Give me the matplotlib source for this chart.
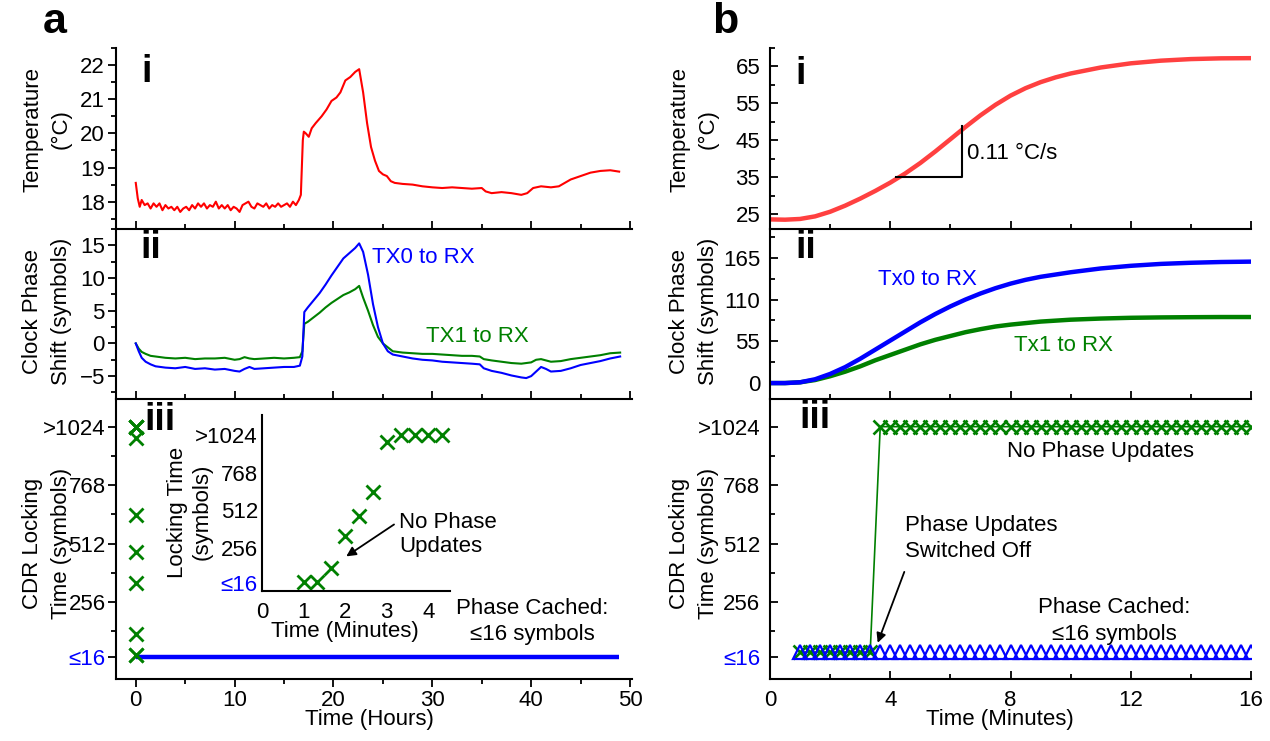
import numpy as np
import matplotlib
matplotlib.use("Agg")
import matplotlib.pyplot as plt
from matplotlib.ticker import MultipleLocator, FixedLocator

plt.rcParams['font.family'] = ['Liberation Sans', 'DejaVu Sans']

# ---------------- DATA ----------------
# Panel a-i: temperature (deg C) vs time (hours)
a_temp_hours = [0.0, 0.2, 0.4, 0.6, 0.9, 1.2, 1.5, 1.8, 2.1, 2.4, 2.7, 3.0, 3.3, 3.6, 3.9, 4.2, 4.5, 4.8,
                5.1, 5.4, 5.7, 6.0, 6.3, 6.6, 6.9, 7.2, 7.5, 7.8, 8.1, 8.4, 8.7, 9.0, 9.3, 9.6, 9.9, 10.2,
                10.5, 10.8, 11.1, 11.4, 11.7, 12.0, 12.3, 12.6, 12.9, 13.2, 13.5, 13.8, 14.1, 14.4, 14.7,
                15.0, 15.3, 15.6, 15.9, 16.2, 16.5, 16.7, 16.9, 17.0, 17.2, 17.5, 17.8, 18.2, 18.8, 19.3,
                19.8, 20.3, 20.7, 21.2, 21.7, 22.2, 22.6, 23.0, 23.4, 23.8, 24.2, 24.6, 25.0, 25.4, 25.8,
                26.2, 27.0, 28.0, 29.0, 30.0, 31.0, 32.0, 33.0, 34.0, 35.0, 35.4, 36.0, 37.0, 38.0, 39.0,
                39.6, 40.2, 41.0, 42.0, 42.8, 43.4, 44.0, 45.0, 46.0, 47.0, 48.0, 48.9]
a_temp_vals = [18.55, 18.10, 17.85, 18.05, 17.90, 17.95, 17.80, 17.95, 17.85, 17.95, 17.75, 17.90, 17.80,
               17.85, 17.75, 17.85, 17.70, 17.80, 17.85, 17.75, 17.90, 17.80, 17.95, 17.85, 17.95, 17.80,
               17.90, 17.85, 18.00, 17.80, 17.90, 17.80, 17.90, 17.75, 17.85, 17.80, 17.70, 17.90, 17.95,
               18.00, 17.85, 17.80, 17.95, 17.90, 17.85, 17.95, 17.80, 17.90, 17.85, 17.95, 17.85, 17.90,
               17.95, 17.85, 18.00, 17.90, 18.05, 18.20, 19.80, 20.05, 20.00, 19.90, 20.15, 20.30, 20.50,
               20.70, 20.95, 21.05, 21.20, 21.55, 21.65, 21.80, 21.88, 21.20, 20.30, 19.60, 19.20, 18.90,
               18.80, 18.75, 18.60, 18.55, 18.52, 18.50, 18.45, 18.42, 18.40, 18.42, 18.40, 18.38, 18.40,
               18.30, 18.25, 18.28, 18.25, 18.20, 18.25, 18.40, 18.45, 18.42, 18.45, 18.55, 18.65, 18.75,
               18.85, 18.90, 18.92, 18.88]

# Panel a-ii: clock phase shift (symbols) vs time (hours)
a_phase_hours = [0, 0.3, 0.6, 1, 1.5, 2, 3, 4, 5, 6, 7, 8, 9, 10, 10.5, 11, 11.5, 12, 13, 14, 15, 16,
                 16.6, 16.85, 17.05, 17.4, 18, 18.6, 19.2, 19.8, 20.4, 21, 21.6, 22.2, 22.6, 23.0, 23.5,
                 24.0, 24.5, 25.0, 25.5, 26, 27, 28, 29, 30, 31, 32, 33, 34, 34.8, 35.2, 36, 37, 38, 39,
                 39.5, 40, 40.5, 41, 41.5, 42, 43, 44, 45, 46, 47, 48, 49]
a_tx0 = [0, -1.2, -2.2, -2.8, -3.2, -3.5, -3.7, -3.8, -3.6, -3.9, -3.8, -4.0, -3.9, -4.2, -4.3, -3.9,
         -3.6, -3.9, -3.8, -3.7, -3.6, -3.6, -3.4, -2.0, 4.8, 5.5, 6.6, 7.7, 9.0, 10.4, 11.7, 13.0, 13.8,
         14.6, 15.3, 14.0, 10.5, 6.0, 2.5, 0.0, -1.2, -1.7, -2.0, -2.3, -2.5, -2.6, -2.8, -2.9, -3.0,
         -3.1, -3.2, -3.8, -4.2, -4.5, -4.9, -5.2, -5.3, -5.0, -4.3, -3.6, -3.9, -4.3, -4.2, -3.8, -3.3,
         -3.0, -2.7, -2.3, -2.0]
a_tx1 = [0, -0.8, -1.3, -1.6, -1.9, -2.0, -2.2, -2.3, -2.2, -2.4, -2.3, -2.3, -2.2, -2.5, -2.4, -2.1,
         -2.3, -2.4, -2.3, -2.2, -2.3, -2.2, -2.1, -1.2, 3.0, 3.3, 4.0, 4.7, 5.5, 6.2, 6.8, 7.4, 7.8,
         8.3, 8.8, 7.0, 5.0, 2.8, 1.0, 0.0, -0.6, -1.2, -1.4, -1.5, -1.6, -1.6, -1.7, -1.8, -1.9, -1.9,
         -2.0, -2.4, -2.6, -2.8, -3.0, -3.1, -3.0, -2.9, -2.5, -2.4, -2.6, -2.8, -2.7, -2.4, -2.2, -2.0,
         -1.8, -1.5, -1.4]

# Panel a-iii: CDR locking time (symbols); measured minutes after power-up without phase updates
lock_minutes = [1.0, 1.33, 1.67, 2.0, 2.33, 2.67, 3.0, 3.33, 3.67, 4.0, 4.33]
lock_symbols = [24, 24, 118, 338, 476, 636, 974, 1024, 1024, 1024, 1024]
cached_hours = [0, 48.9]
cached_symbols = [16, 16]

# Panel b-i: temperature vs time (minutes)
b_minutes = [0, 0.5, 1, 1.5, 2, 2.5, 3, 3.5, 4, 4.5, 5, 5.5, 6, 6.5, 7, 7.5, 8, 8.5, 9, 9.5, 10, 11,
             12, 13, 14, 15, 16]
b_temp = [23.6, 23.52, 23.72, 24.42, 25.67, 27.32, 29.22, 31.30, 33.55, 36.05, 38.87, 42.0, 45.3,
          48.62, 51.77, 54.62, 57.10, 59.12, 60.75, 62.05, 63.10, 64.72, 65.85, 66.57, 67.0, 67.2,
          67.25]
slope_x = [4.2, 6.38, 6.38]
slope_y = [35, 35, 48.8]

# Panel b-ii: clock phase shift vs time (minutes)
b_phase_minutes = [0, 0.5, 1, 1.5, 2, 2.5, 3, 3.5, 4, 4.5, 5, 5.5, 6, 6.5, 7, 7.5, 8, 8.5, 9, 10, 11,
                   12, 13, 14, 15, 16]
b_tx0 = [0, 0, 1, 5, 12, 21, 32, 44, 56, 68, 80, 91, 101, 110, 118, 125, 131, 136, 140, 146, 151,
         154.5, 157, 158.5, 159.5, 160]
b_tx1 = [0, 0, 1, 4, 9, 15, 22, 30, 37, 44, 51, 57, 62, 67, 71, 74.5, 77, 79, 81, 83.5, 85, 86, 86.5,
         86.8, 87, 87]

# Panel b-iii: locking time, sampled every 20 s from 1 to 16 minutes
b_lock_start_min = 1.0
b_lock_interval_min = 1 / 3
b_lock_count = 46
b_no_update_low_count = 8          # samples before phase updates switched off
b_no_update_low = 38
b_no_update_high = 1024
b_cached_level = 38

iii_ticks = [16, 256, 512, 768, 1024]
iii_ticklabels = ['≤16', '256', '512', '768', '>1024']
iii_minor = [128, 384, 640, 896]

# ---------------- FIGURE ----------------
W, H = 1270, 741
fig = plt.figure(figsize=(W / 100, H / 100), dpi=100)
FS = 16
BLUE = '#0000FF'
GREEN = '#008000'
RED = '#FF0000'
LRED = '#FF4040'


def add_ax(l, r, t, b):
    return fig.add_axes([l / W, 1 - b / H, (r - l) / W, (b - t) / H])


def ftext(x, y, s, **kw):
    kw.setdefault('fontsize', FS)
    return fig.text(x / W, 1 - y / H, s, **kw)


def style(ax, ydir, xdir, ypad, xpad, xlabels):
    for s in ['top', 'right']:
        ax.spines[s].set_visible(False)
    for s in ['left', 'bottom']:
        ax.spines[s].set_linewidth(1.5)
    ax.tick_params(axis='both', which='both', width=1.3, labelsize=FS)
    ax.tick_params(axis='y', which='both', direction=ydir, pad=ypad)
    ax.tick_params(axis='x', which='both', direction=xdir, pad=xpad, labelbottom=xlabels)
    ax.tick_params(which='major', length=6)
    ax.tick_params(which='minor', length=3.5)
    ax.patch.set_alpha(0)


ROWS = [(48, 229), (229, 399), (399, 679)]
AX_A = (116, 632)
AX_B = (770, 1251)

# ---- panel a ----
a1 = add_ax(AX_A[0], AX_A[1], *ROWS[0])
a2 = add_ax(AX_A[0], AX_A[1], *ROWS[1])
a3 = add_ax(AX_A[0], AX_A[1], *ROWS[2])
for ax in (a1, a2, a3):
    ax.set_xlim(-2.0, 50.2)
    ax.xaxis.set_major_locator(MultipleLocator(10))
    ax.xaxis.set_minor_locator(MultipleLocator(5))

a1.plot(a_temp_hours, a_temp_vals, color=RED, lw=1.5)
a1.set_ylim(17.2, 22.5)
a1.yaxis.set_major_locator(MultipleLocator(1))
a1.yaxis.set_minor_locator(MultipleLocator(0.5))
style(a1, 'out', 'in', 2, 3, False)

a2.plot(a_phase_hours, a_tx1, color=GREEN, lw=1.5)
a2.plot(a_phase_hours, a_tx0, color=BLUE, lw=1.5)
a2.set_ylim(-8.5, 17.5)
a2.yaxis.set_minor_locator(MultipleLocator(2.5))
a2.set_yticks([-5, 0, 5, 10, 15])
style(a2, 'out', 'in', 2, 3, False)
a2.text(23.9, 13.2, 'TX0 to RX', color=BLUE, fontsize=FS, ha='left', va='center')
a2.text(29.4, 1.0, 'TX1 to RX', color=GREEN, fontsize=FS, ha='left', va='center')

a3.plot(cached_hours, cached_symbols, color=BLUE, lw=3.2, solid_capstyle='butt')
a3.plot(np.array(lock_minutes) / 60.0, lock_symbols, ls='none', marker='x', ms=10, mew=2,
        color=GREEN)
a3.set_ylim(-80, 1145)
a3.yaxis.set_major_locator(FixedLocator(iii_ticks))
a3.set_yticklabels(iii_ticklabels)
a3.yaxis.set_minor_locator(FixedLocator(iii_minor))
style(a3, 'out', 'out', 1.5, 2, True)
a3.get_yticklabels()[0].set_color(BLUE)
a3.text(40.1, 172, 'Phase Cached:\n≤16 symbols', fontsize=FS, ha='center', va='center',
        linespacing=1.35)

# inset
ins = add_ax(262, 450, 415, 591)
ins.plot(lock_minutes, lock_symbols, ls='none', marker='x', ms=10, mew=2, color=GREEN)
ins.set_xlim(0, 4.52)
ins.set_ylim(-37, 1160)
ins.set_xticks([0, 1, 2, 3, 4])
ins.yaxis.set_major_locator(FixedLocator(iii_ticks))
ins.set_yticklabels(iii_ticklabels)
for s in ['top', 'right']:
    ins.spines[s].set_visible(False)
for s in ['left', 'bottom']:
    ins.spines[s].set_linewidth(1.5)
ins.tick_params(which='both', length=0, labelsize=FS)
ins.tick_params(axis='x', pad=8)
ins.tick_params(axis='y', pad=3)
ins.get_yticklabels()[0].set_color(BLUE)
ins.set_facecolor('white')
ins.annotate('', xy=(1.97, 188), xytext=(3.23, 426),
             arrowprops=dict(arrowstyle='-|>', color='black', lw=1.3, mutation_scale=14))
ins.text(3.3, 347, 'No Phase\nUpdates', fontsize=FS, ha='left', va='center', linespacing=1.2)
ftext(345, 632, 'Time (Minutes)', ha='center', va='center')
ftext(190, 512, 'Locking Time\n(symbols)', rotation=90, ha='center', va='center',
      linespacing=1.25, multialignment='center')

# ---- panel b ----
b1 = add_ax(AX_B[0], AX_B[1], *ROWS[0])
b2 = add_ax(AX_B[0], AX_B[1], *ROWS[1])
b3 = add_ax(AX_B[0], AX_B[1], *ROWS[2])
for ax in (b1, b2, b3):
    ax.set_xlim(0, 16)
    ax.xaxis.set_major_locator(MultipleLocator(4))
    ax.xaxis.set_minor_locator(MultipleLocator(2))

b1.plot(b_minutes, b_temp, color=LRED, lw=3.2, solid_joinstyle='round')
b1.plot(slope_x, slope_y, color='black', lw=1.5)
b1.text(6.55, 41.5, '0.11 °C/s', fontsize=FS, ha='left', va='center')
b1.set_ylim(21, 70)
b1.set_yticks([25, 35, 45, 55, 65])
b1.yaxis.set_minor_locator(MultipleLocator(5))
style(b1, 'in', 'in', 7, 8, False)

b2.plot(b_phase_minutes, b_tx1, color=GREEN, lw=3.2, solid_joinstyle='round')
b2.plot(b_phase_minutes, b_tx0, color=BLUE, lw=3.2, solid_joinstyle='round')
b2.set_ylim(-21, 203)
b2.set_yticks([0, 55, 110, 165])
b2.yaxis.set_minor_locator(FixedLocator([27.5, 82.5, 137.5, 192.5]))
style(b2, 'in', 'in', 7, 8, False)
b2.text(3.6, 137, 'Tx0 to RX', color=BLUE, fontsize=FS, ha='left', va='center')
b2.text(8.1, 50, 'Tx1 to RX', color=GREEN, fontsize=FS, ha='left', va='center')

t_lock = b_lock_start_min + b_lock_interval_min * np.arange(b_lock_count)
green_vals = np.where(np.arange(b_lock_count) < b_no_update_low_count, b_no_update_low,
                      b_no_update_high)
blue_vals = np.full(b_lock_count, b_cached_level)
b3.plot(t_lock, green_vals, color=GREEN, lw=1.2, marker='x', ms=10, mew=1.9)
b3.plot(t_lock, blue_vals, ls='none', marker='^', ms=9.5, mew=1.6, mfc='none', mec=BLUE)
b3.set_ylim(-80, 1145)
b3.yaxis.set_major_locator(FixedLocator(iii_ticks))
b3.set_yticklabels(iii_ticklabels)
b3.yaxis.set_minor_locator(FixedLocator(iii_minor))
style(b3, 'in', 'in', 7, 8, True)
b3.get_yticklabels()[0].set_color(BLUE)
b3.text(11.0, 914, 'No Phase Updates', fontsize=FS, ha='center', va='center')
b3.text(4.5, 534, 'Phase Updates\nSwitched Off', fontsize=FS, ha='left', va='center',
        linespacing=1.35)
b3.annotate('', xy=(3.55, 67), xytext=(4.5, 400),
            arrowprops=dict(arrowstyle='-|>', color='black', lw=1.3, mutation_scale=14))
b3.text(11.46, 173, 'Phase Cached:\n≤16 symbols', fontsize=FS, ha='center', va='center',
        linespacing=1.35)

# ---- labels ----
ftext(55, 22, 'a', fontsize=31, fontweight='bold', ha='center', va='center')
ftext(725, 22, 'b', fontsize=31, fontweight='bold', ha='center', va='center')
for (x, y, s) in [(147, 72, 'i'), (151, 248, 'ii'), (160, 420, 'iii'),
                  (801, 74, 'i'), (806, 248, 'ii'), (815, 418, 'iii')]:
    ftext(x, y, s, fontsize=27, fontweight='bold', ha='center', va='center')

for xc in (47, 694):
    ftext(xc, 129, 'Temperature\n(°C)', rotation=90, ha='center', va='center',
          linespacing=1.45, multialignment='center')
    ftext(xc, 311, 'Clock Phase\nShift (symbols)', rotation=90, ha='center', va='center',
          linespacing=1.45, multialignment='center')
    ftext(xc, 543, 'CDR Locking\nTime (symbols)', rotation=90, ha='center', va='center',
          linespacing=1.45, multialignment='center')

ftext(369, 720, 'Time (Hours)', ha='center', va='center')
ftext(1000, 720, 'Time (Minutes)', ha='center', va='center')

fig.savefig('out.png', dpi=100)
